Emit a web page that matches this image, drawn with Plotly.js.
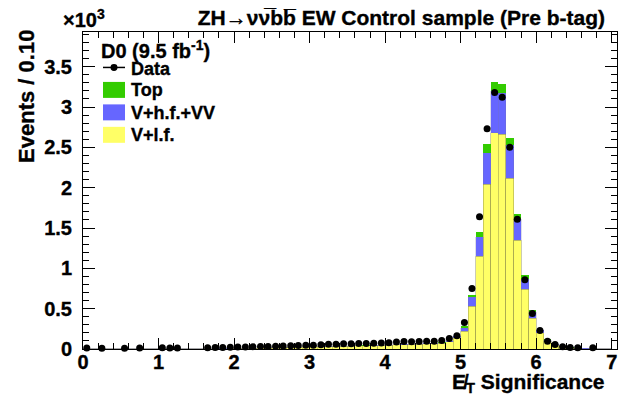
<!DOCTYPE html>
<html>
<head>
<meta charset="utf-8">
<script src="https://cdn.plot.ly/plotly-3.0.1.min.js"></script>
<style>html,body{margin:0;padding:0;background:#fff;}#chart{width:644px;height:401px;}
#chart svg text{stroke:#000;stroke-width:0.35px;}</style>
</head>
<body>
<div id="chart"></div>
<script>
// ---- data (values in units of 10^3 events per 0.10) ----
const binCenters = [
  0.05,0.15,0.25,0.35,0.45,0.55,0.65,0.75,0.85,0.95,
  1.05,1.15,1.25,1.35,1.45,1.55,1.65,1.75,1.85,1.95,
  2.05,2.15,2.25,2.35,2.45,2.55,2.65,2.75,2.85,2.95,
  3.05,3.15,3.25,3.35,3.45,3.55,3.65,3.75,3.85,3.95,
  4.05,4.15,4.25,4.35,4.45,4.55,4.65,4.75,4.85,4.95,
  5.05,5.15,5.25,5.35,5.45,5.55,5.65,5.75,5.85,5.95,
  6.05,6.15,6.25,6.35,6.45,6.55,6.65,6.75,6.85,6.95];
const vlf = [
  0.001,0.001,0.001,0.001,0.001,0.001,0.001,0.001,0.001,0.001,
  0.001,0.002,0.002,0.002,0.003,0.003,0.004,0.005,0.006,0.007,
  0.008,0.010,0.011,0.013,0.015,0.017,0.019,0.021,0.023,0.025,
  0.027,0.028,0.030,0.032,0.034,0.036,0.038,0.040,0.042,0.044,
  0.047,0.050,0.053,0.056,0.060,0.064,0.068,0.074,0.090,0.140,
  0.22,0.53,1.15,2.04,2.68,2.66,2.12,1.35,0.74,0.38,
  0.20,0.10,0.05,0.025,0.015,0.010,0.006,0.004,0.002,0.001];
const vhfvv = [
  0,0,0,0,0,0,0,0,0,0,
  0,0,0,0,0,0,0.001,0.001,0.001,0.001,
  0.001,0.001,0.001,0.001,0.001,0.001,0.001,0.002,0.002,0.002,
  0.002,0.002,0.002,0.002,0.002,0.003,0.003,0.003,0.003,0.003,
  0.003,0.003,0.004,0.004,0.004,0.005,0.005,0.006,0.010,0.020,
  0.04,0.11,0.24,0.39,0.52,0.51,0.41,0.26,0.13,0.08,
  0.03,0.015,0.008,0.004,0.003,0.002,0.001,0.001,0,0];
const topq = [
  0,0,0,0,0,0,0,0,0,0,
  0,0,0,0,0,0,0,0,0,0,
  0,0,0,0,0,0,0,0,0,0,
  0.001,0.001,0.001,0.001,0.001,0.001,0.001,0.001,0.001,0.001,
  0.001,0.001,0.002,0.002,0.002,0.002,0.003,0.003,0.004,0.005,
  0.02,0.03,0.06,0.11,0.11,0.12,0.09,0.06,0.05,0.02,
  0.01,0.005,0.003,0.002,0.001,0.001,0,0,0,0];
const dataX = [
  0.05,0.25,0.55,0.75,1.05,1.15,1.25,
  1.65,1.75,1.85,1.95,2.05,2.15,2.25,2.35,2.45,2.55,2.65,2.75,2.85,2.95,
  3.05,3.15,3.25,3.35,3.45,3.55,3.65,3.75,3.85,3.95,
  4.05,4.15,4.25,4.35,4.45,4.55,4.65,4.75,4.85,4.95,
  5.05,5.15,5.25,5.35,5.45,5.55,5.65,5.75,5.85,5.95,
  6.05,6.15,6.25,6.35,6.45,6.55,6.75];
const dataY = [
  0.012,0.010,0.010,0.012,0.014,0.012,0.013,
  0.016,0.018,0.020,0.022,0.024,0.025,0.027,0.030,0.032,0.035,0.038,0.040,0.043,0.046,
  0.048,0.052,0.058,0.060,0.064,0.066,0.068,0.068,0.070,0.074,
  0.078,0.088,0.092,0.090,0.094,0.096,0.095,0.105,0.130,0.165,
  0.33,0.75,1.64,2.73,3.18,3.12,2.50,1.61,0.86,0.44,
  0.23,0.095,0.055,0.028,0.018,0.016,0.015];
const xTickVals = [0,1,2,3,4,5,6,7];
const xTickText = ['0','1','2','3','4','5','6','7'];
const yTickVals = [0,0.5,1,1.5,2,2.5,3,3.5];
const yTickText = ['0','0.5','1','1.5','2','2.5','3','3.5'];
const legendLabels = ['Data','Top','V+h.f.+VV','V+l.f.'];

// ---- styling ----
const C_YEL = '#ffff66', C_BLU = '#6666ff', C_GRN = '#33cc00';
const FONT = 'Liberation Sans';
const W = 644, H = 401, L = 83, R = 617, T = 32, B = 349.5;
const px = x => (x - L) / (R - L);
const py = y => (B - y) / (B - T);
const bold = s => '<b>' + s + '</b>';
const edge = {color: 'rgba(130,130,70,0.6)', width: 0.7};

const traces = [
  {type:'bar', x: binCenters, y: vlf, width: 0.1, marker:{color: C_YEL, line: edge}, name: legendLabels[3], hoverinfo:'skip'},
  {type:'bar', x: binCenters, y: vhfvv, width: 0.1, marker:{color: C_BLU, line:{color:'rgba(120,120,160,0.5)', width:0.5}}, name: legendLabels[2], hoverinfo:'skip'},
  {type:'bar', x: binCenters, y: topq, width: 0.1, marker:{color: C_GRN, line:{width:0}}, name: legendLabels[1], hoverinfo:'skip'},
  {type:'scatter', mode:'markers', x: dataX, y: dataY, marker:{color:'#000', size:7}, cliponaxis:false, name: legendLabels[0]}
];

const tickFont = {family: FONT, size: 20, color: '#000'};

const shapes = [
  {type:'line', xref:'paper', yref:'paper', x0: px(103), x1: px(125), y0: py(67.5), y1: py(67.5), line:{color:'#000', width:1.5}},
  {type:'circle', xref:'paper', yref:'paper', x0: px(110.5), x1: px(117.5), y0: py(71), y1: py(64), fillcolor:'#000', line:{color:'#000', width:0}},
  {type:'rect', xref:'paper', yref:'paper', x0: px(103), x1: px(125), y0: py(98), y1: py(82), fillcolor: C_GRN, line:{width:0}},
  {type:'rect', xref:'paper', yref:'paper', x0: px(103), x1: px(125), y0: py(120.5), y1: py(104.5), fillcolor: C_BLU, line:{width:0}},
  {type:'rect', xref:'paper', yref:'paper', x0: px(103), x1: px(125), y0: py(143), y1: py(127), fillcolor: C_YEL, line:{width:0}}
];

const ann = (text, x, y, xanchor, size, extra) => Object.assign({
  xref:'paper', yref:'paper', x: px(x), y: py(y), xanchor: xanchor, yanchor:'middle',
  text: bold(text), showarrow:false, font:{family: FONT, size: size, color:'#000'}
}, extra || {});

const annotations = [
  ann('D0 (9.5 fb<sup>-1</sup>)', 99, 50, 'left', 20),
  ann(legendLabels[0], 129, 69, 'left', 18),
  ann(legendLabels[1], 129, 90, 'left', 18),
  ann(legendLabels[2], 129, 113, 'left', 18),
  ann(legendLabels[3], 129, 135, 'left', 18),
  ann('×10<sup>3</sup>', 61, 18, 'left', 20),
  ann('E\u0338<sub>T</sub> Significance', 607, 384, 'right', 21),
  ann('Events / 0.10', 27, 97, 'center', 22, {textangle: -90})
];

const layout = {
  width: W, height: H,
  margin: {l: L, r: W - R, t: T, b: H - B, pad: 0},
  paper_bgcolor: '#fff', plot_bgcolor: '#fff',
  showlegend: false,
  barmode: 'stack', bargap: 0,
  title: {text: bold('ZH→νν\u0305bb\u0305 EW Control sample (Pre b-tag)'), x: 605/W, xanchor:'right', xref:'container',
          y: 1 - 18/H, yanchor:'middle', yref:'container', font:{family: FONT, size: 21, color:'#000'}},
  xaxis: {range: [0, 7.07], tickvals: xTickVals, ticktext: xTickText.map(bold), ticks:'inside', ticklen: 11, tickwidth: 1, tickcolor:'#000',
          showline: true, linecolor:'#000', linewidth: 1, mirror:'allticks', showgrid:false, zeroline:false,
          tickfont: tickFont, ticklabelstandoff: -5,
          minor: {dtick: 0.2, ticks:'inside', ticklen: 6, tickcolor:'#000', tickwidth: 1, showgrid:false}},
  yaxis: {range: [0, 3.93], tickvals: yTickVals, ticktext: yTickText.map(bold), ticks:'inside', ticklen: 12, tickwidth: 1, tickcolor:'#000',
          showline: true, linecolor:'#000', linewidth: 1, mirror:'allticks', showgrid:false, zeroline:false,
          tickfont: tickFont, ticklabelstandoff: 6,
          minor: {dtick: 0.1, ticks:'inside', ticklen: 6, tickcolor:'#000', tickwidth: 1, showgrid:false}},
  shapes: shapes,
  annotations: annotations
};

Plotly.newPlot('chart', traces, layout, {displayModeBar: false, staticPlot: true});
</script>
</body>
</html>
